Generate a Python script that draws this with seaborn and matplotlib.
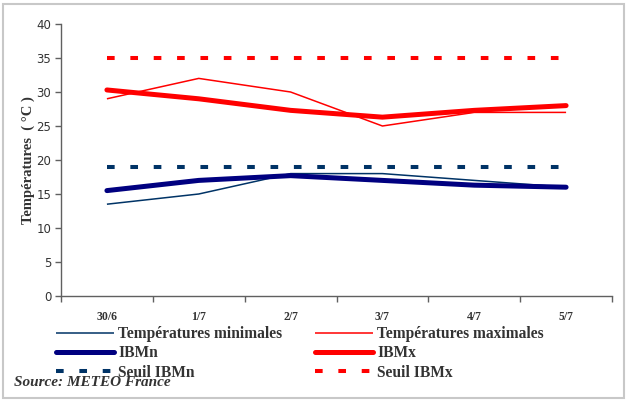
import matplotlib
matplotlib.use("Agg")
import matplotlib.pyplot as plt
import seaborn as sns
import pandas as pd
from matplotlib.patches import Rectangle

days = ["30/6", "1/7", "2/7", "3/7", "4/7", "5/7"]
t_min = [13.5, 15.0, 18.0, 18.0, 17.0, 16.0]
t_max = [29.0, 32.0, 30.0, 25.0, 27.0, 27.0]
ibmn = [15.5, 17.0, 17.7, 17.0, 16.3, 16.0]
ibmx = [30.3, 29.0, 27.3, 26.3, 27.3, 28.0]
seuil_ibmn = [19, 19, 19, 19, 19, 19]
seuil_ibmx = [35, 35, 35, 35, 35, 35]
y_ticks = [0, 5, 10, 15, 20, 25, 30, 35, 40]

sns.set_theme(style="white")
plt.rcParams['font.family'] = ['DejaVu Sans']

fig = plt.figure(figsize=(6.28, 4.01), dpi=100)
ax = fig.add_axes([61/628, 1-296/401, (612-61)/628, (296-24)/401])

navy = "#000080"
teal = "#003366"
red = "#FF0000"

series = [
    ("Températures minimales", t_min, teal, 1.1, "-"),
    ("IBMn", ibmn, navy, 3.6, "-"),
    ("Seuil IBMn", seuil_ibmn, teal, 2.9, (0, (1.9, 3.9))),
    ("Températures maximales", t_max, red, 1.1, "-"),
    ("IBMx", ibmx, red, 3.6, "-"),
    ("Seuil IBMx", seuil_ibmx, red, 2.9, (0, (1.9, 3.9))),
]
order_draw = [2, 5, 0, 3, 1, 4]
handles = {}
for i in order_draw:
    name, vals, col, lw, ls = series[i]
    df = pd.DataFrame({"day": days, "val": vals})
    n_before = len(ax.lines)
    sns.lineplot(data=df, x="day", y="val", ax=ax, color=col, linewidth=lw,
                 linestyle=ls, sort=False, label=name, legend=False)
    ln = ax.lines[n_before]
    ln.set_dash_capstyle("butt")
    ln.set_solid_capstyle("round" if lw > 2 else "butt")
    handles[i] = ln

ax.set_xlim(-0.5, 5.5)
ax.set_ylim(0, 40)
ax.set_yticks(y_ticks)
ax.set_xticks(range(len(days)))
ax.set_xticklabels(days, fontfamily="Liberation Serif", fontweight="bold",
                   fontsize=8.5, color="#333333")
ax.set_xticks([x - 0.5 for x in range(len(days) + 1)], minor=True)
ax.tick_params(axis="x", which="major", length=0, pad=11)
ax.tick_params(axis="x", which="minor", length=4, width=1, color="#606060",
               direction="out", bottom=True)
ax.tick_params(axis="y", length=4, width=1, color="#606060", direction="out",
               left=True, labelsize=8.5, labelcolor="#333333", pad=3)
for lab in ax.get_yticklabels():
    lab.set_fontfamily("DejaVu Sans")
ax.set_xlabel("")
ax.set_ylabel("Températures  ( °C )", fontfamily="Liberation Serif",
              fontweight="bold", fontsize=10.5, color="#333333", labelpad=1)
for s in ["top", "right"]:
    ax.spines[s].set_visible(False)
for s in ["left", "bottom"]:
    ax.spines[s].set_color("#606060")
    ax.spines[s].set_linewidth(1)
ax.grid(False)

hl = [handles[i] for i in range(6)]
labels = [series[i][0] for i in range(6)]
leg = fig.legend(hl, labels, ncol=2, loc="upper left",
                 bbox_to_anchor=(56/628, 1-326/401), frameon=False,
                 prop={"family": "Liberation Serif", "weight": "bold", "size": 11.2},
                 handlelength=3.7, handletextpad=0.3, columnspacing=2.1,
                 labelspacing=0.22, borderpad=0, borderaxespad=0)
for t in leg.get_texts():
    t.set_color("#333333")

fig.text(14/628, 1-383/401, "Source: METEO France", fontfamily="Liberation Serif",
         fontweight="bold", fontstyle="italic", fontsize=11, color="#333333",
         va="center", ha="left")

fig.patches.append(Rectangle((3/628, 3/401), 621/628, 394/401, transform=fig.transFigure,
                             fill=False, edgecolor="#c8c8c8", linewidth=1.5))

fig.savefig("out.png", dpi=100)
